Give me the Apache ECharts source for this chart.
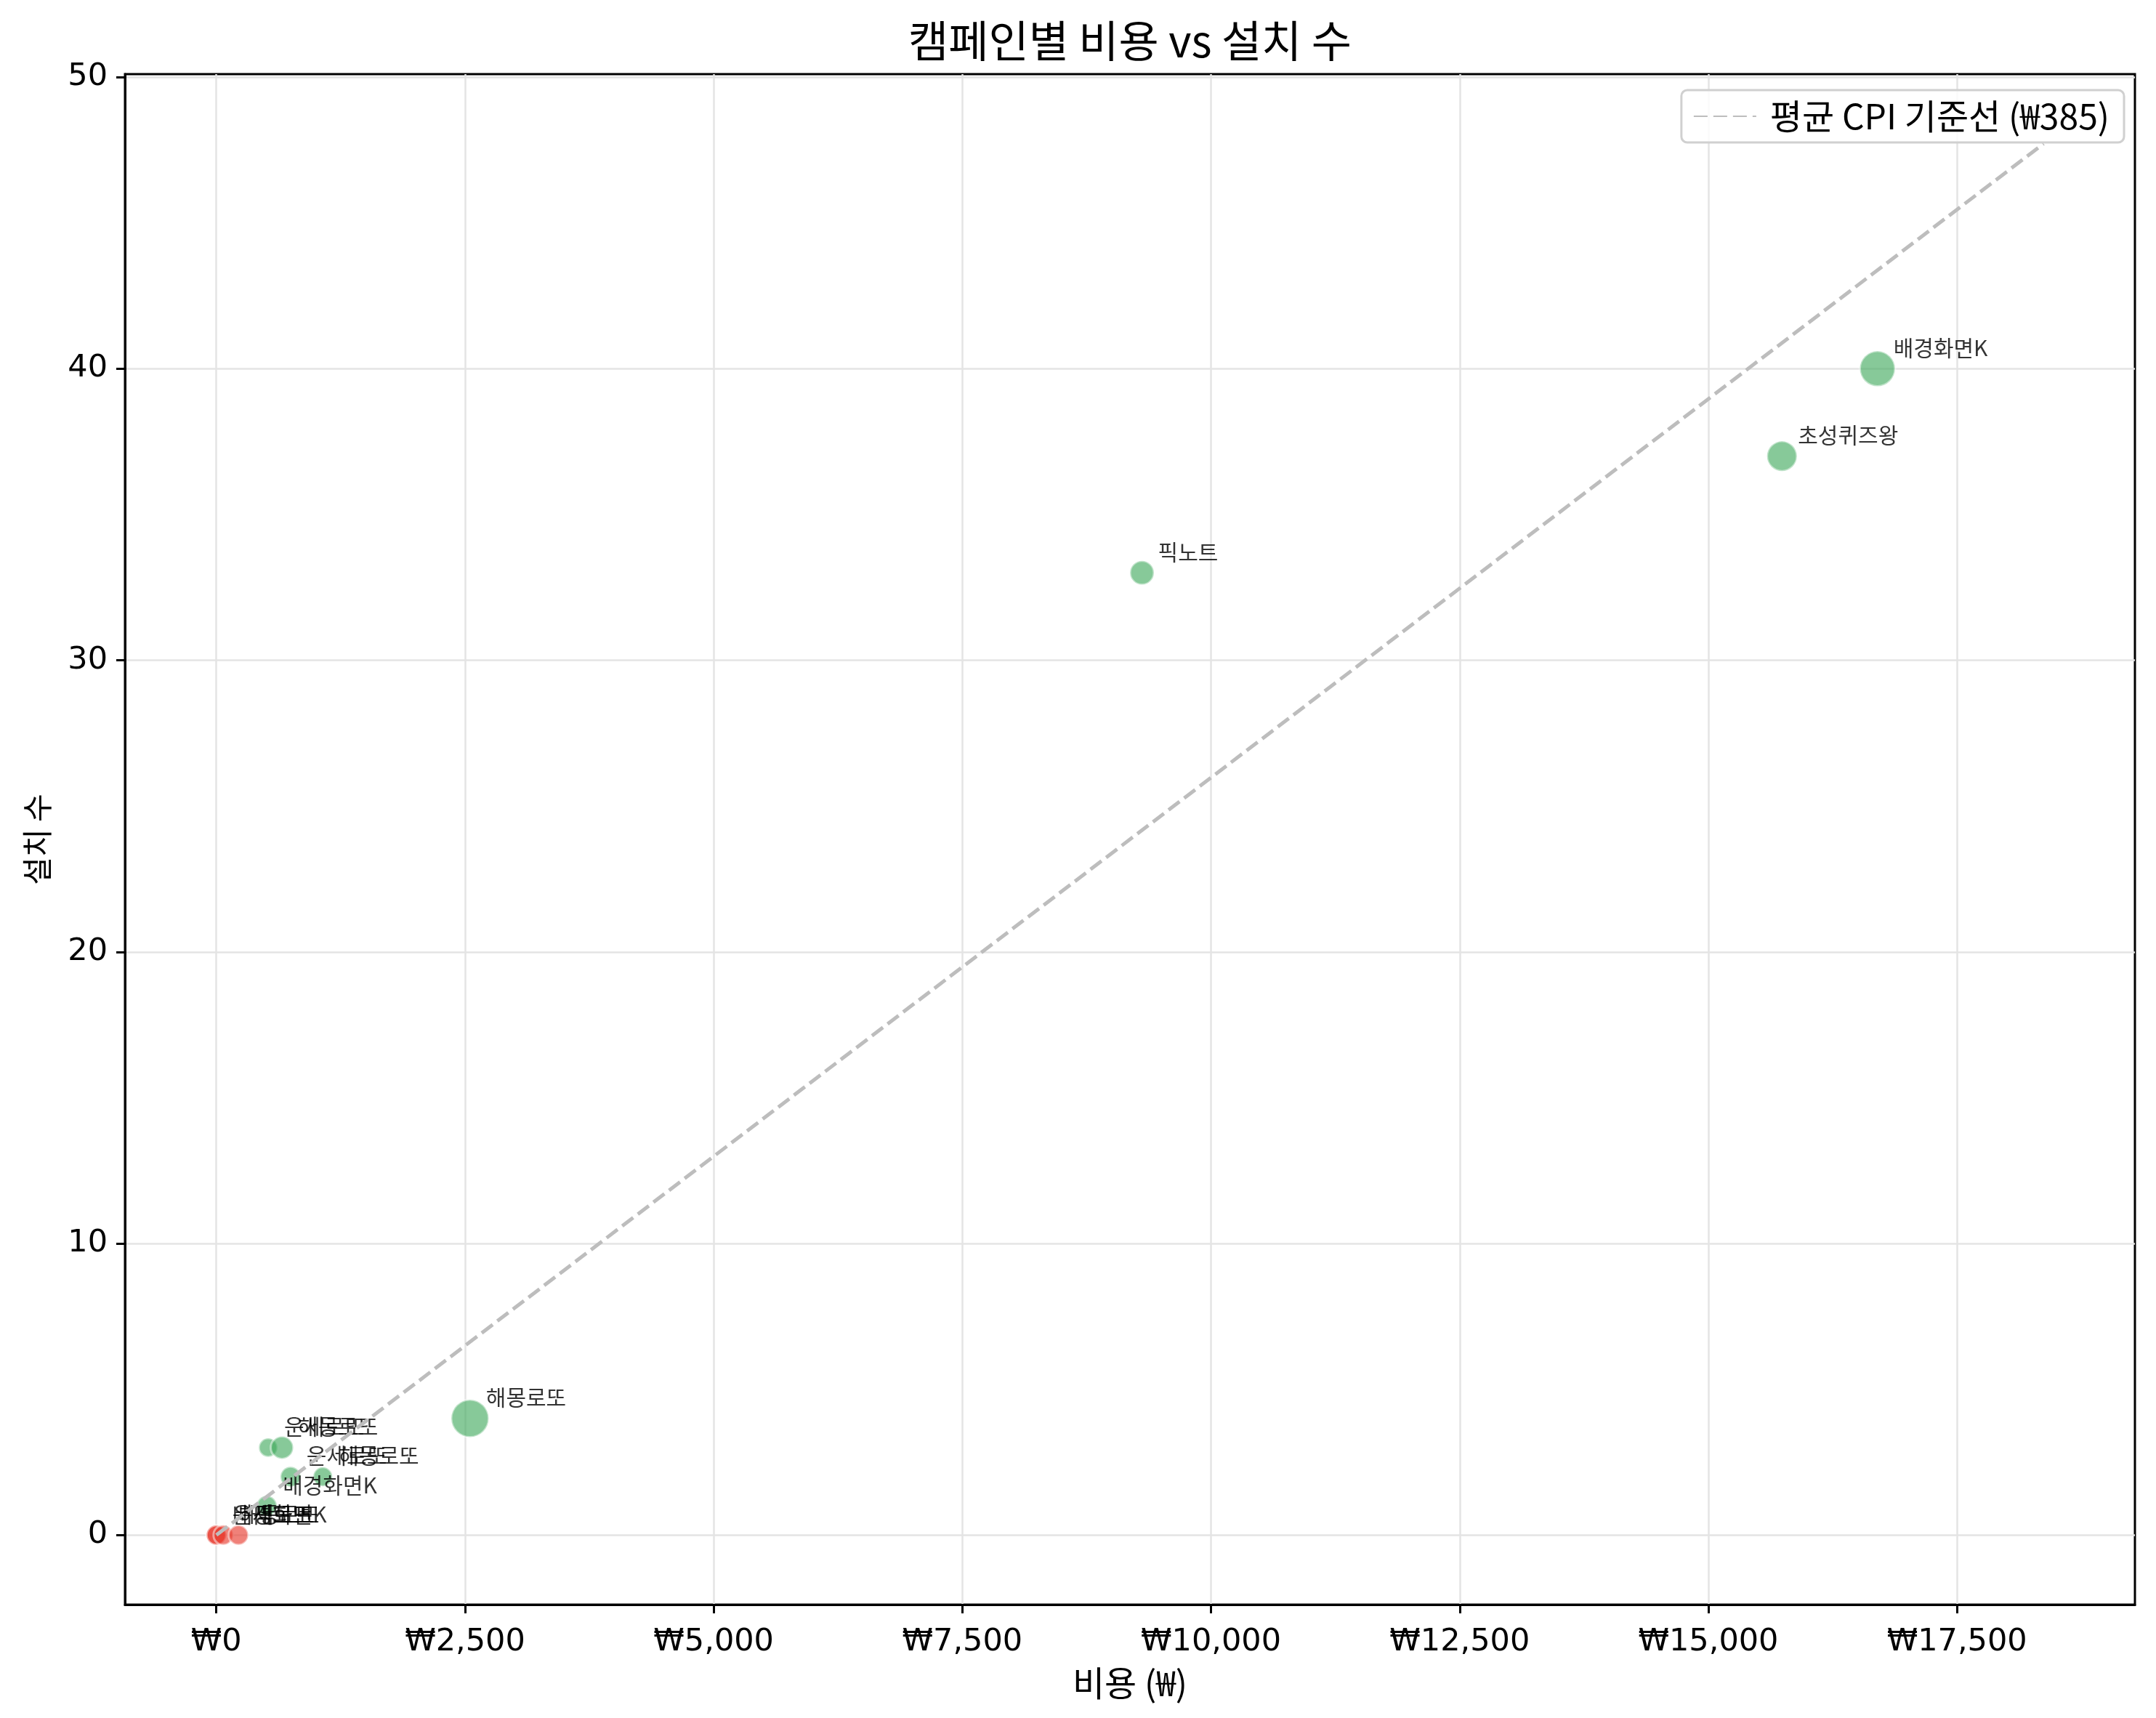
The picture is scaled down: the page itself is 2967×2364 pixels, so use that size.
<!DOCTYPE html>
<html>
<head>
<meta charset="utf-8">
<script src="https://cdn.jsdelivr.net/npm/echarts@6/dist/echarts.min.js"></script>
<style>
  html, body { margin: 0; padding: 0; background: #fff; }
  #chart { width: 2967px; height: 2364px; }
</style>
</head>
<body>
<div id="chart"></div>
<script>
// 캠페인 데이터
var campaigns = ['배경화면K', '운세로또', '해몽로또', '픽노트',
  '배경화면K', '운세로또', '해몽로또', '운세로또', '해몽로또', '해몽로또',
  '픽노트', '초성퀴즈왕', '배경화면K']
var costs = [0, 0, 70, 222, 507, 521, 660, 746, 1070, 2550, 9306, 15740, 16700]
var installs = [0, 0, 0, 0, 1, 3, 3, 2, 2, 4, 33, 37, 40]
var clicks = [19, 19, 19, 19, 20, 17, 25, 20, 18, 69, 28, 44, 61]

var xTicks = [0, 2500, 5000, 7500, 10000, 12500, 15000, 17500]
var yTicks = [0, 10, 20, 30, 40, 50]
var avgCpi = 385

var FONT = '"Noto Sans CJK KR", "Noto Sans", sans-serif'
var NUM_FONT = '"DejaVu Sans", "Noto Sans CJK KR", sans-serif'

var W = 2967
var GRID = { left: 172, right: 29, top: 102, bottom: 156 }

// 기준선: 0 ~ 최대 비용의 1.1배
var maxCost = Math.max.apply(null, costs)
var lineEndX = maxCost * 1.1
var lineEndY = lineEndX / avgCpi
var cpiLine = [[0, 0], [lineEndX, lineEndY]]

var points = []
for (var i = 0; i < costs.length; i++) {
  var ok = installs[i] > 0
  points.push({
    name: campaigns[i],
    value: [costs[i], installs[i], clicks[i]],
    itemStyle: {
      color: ok ? 'rgba(62,168,92,0.78)' : 'rgba(232,58,46,0.8)'
    }
  })
}

var chart = echarts.init(document.getElementById('chart'), null, { renderer: 'canvas' })

chart.setOption({
  animation: false,
  backgroundColor: '#fff',
  textStyle: { fontFamily: FONT },
  title: {
    text: '캠페인별 비용 vs 설치 수',
    left: (GRID.left + W - GRID.right) / 2,
    textAlign: 'center',
    top: 26,
    padding: 0,
    textStyle: { fontFamily: FONT, fontSize: 60, fontWeight: 'normal', color: '#000' }
  },
  legend: {
    data: ['평균 CPI 기준선 (₩' + avgCpi + ')'],
    right: 44,
    top: 124,
    padding: [12, 20, 12, 16],
    itemWidth: 86,
    itemHeight: 20,
    itemStyle: { color: 'rgba(0,0,0,0)', borderWidth: 0 },
    borderColor: '#d0d0d0',
    borderWidth: 3,
    borderRadius: 8,
    backgroundColor: 'rgba(255,255,255,0.85)',
    textStyle: { fontFamily: FONT, fontSize: 48, color: '#000', padding: [0, 0, 0, 14] }
  },
  grid: {
    left: GRID.left, right: GRID.right, top: GRID.top, bottom: GRID.bottom,
    show: true,
    borderColor: '#000',
    borderWidth: 3
  },
  xAxis: {
    type: 'value',
    min: -0.05 * lineEndX,
    max: lineEndX * 1.05,
    name: '비용 (₩)',
    nameLocation: 'middle',
    nameGap: 84,
    nameTextStyle: { fontFamily: FONT, fontSize: 48, color: '#000' },
    axisLine: { show: true, onZero: false, lineStyle: { color: '#000', width: 3 } },
    axisTick: { show: true, length: 12, lineStyle: { color: '#000', width: 3 }, customValues: xTicks },
    axisLabel: {
      customValues: xTicks,
      margin: 30,
      fontSize: 43,
      color: '#000',
      fontFamily: NUM_FONT,
      formatter: function (v) { return '₩' + v.toLocaleString('en-US') }
    },
    splitLine: { show: true, lineStyle: { color: '#e4e4e4', width: 2.5 } }
  },
  yAxis: {
    type: 'value',
    min: -0.05 * lineEndY,
    max: lineEndY * 1.05,
    name: '설치 수',
    nameLocation: 'middle',
    nameGap: 100,
    nameTextStyle: { fontFamily: FONT, fontSize: 42, color: '#000' },
    axisLine: { show: true, onZero: false, lineStyle: { color: '#000', width: 3 } },
    axisTick: { show: true, length: 12, lineStyle: { color: '#000', width: 3 }, customValues: yTicks },
    axisLabel: {
      customValues: yTicks,
      margin: 24,
      fontSize: 43,
      color: '#000',
      fontFamily: NUM_FONT
    },
    splitLine: { show: true, lineStyle: { color: '#e4e4e4', width: 2.5 } }
  },
  series: [
    {
      name: 'campaigns',
      type: 'scatter',
      z: 2,
      data: points,
      symbolSize: function (val) { return 6.2 * Math.sqrt(val[2]) },
      itemStyle: { borderColor: 'rgba(255,255,255,0.6)', borderWidth: 3 },
      label: {
        show: true,
        position: 'inside',
        align: 'left',
        verticalAlign: 'bottom',
        offset: [22, -14],
        formatter: '{b}',
        fontFamily: FONT,
        fontSize: 30,
        color: '#000'
      },
      emphasis: { disabled: true }
    },
    {
      name: '평균 CPI 기준선 (₩' + avgCpi + ')',
      type: 'line',
      z: 3,
      data: cpiLine,
      symbol: 'none',
      lineStyle: { color: '#bdbdbd', width: 5, type: [19, 8] },
      itemStyle: { color: '#bdbdbd' },
      emphasis: { disabled: true }
    }
  ]
})
</script>
</body>
</html>
